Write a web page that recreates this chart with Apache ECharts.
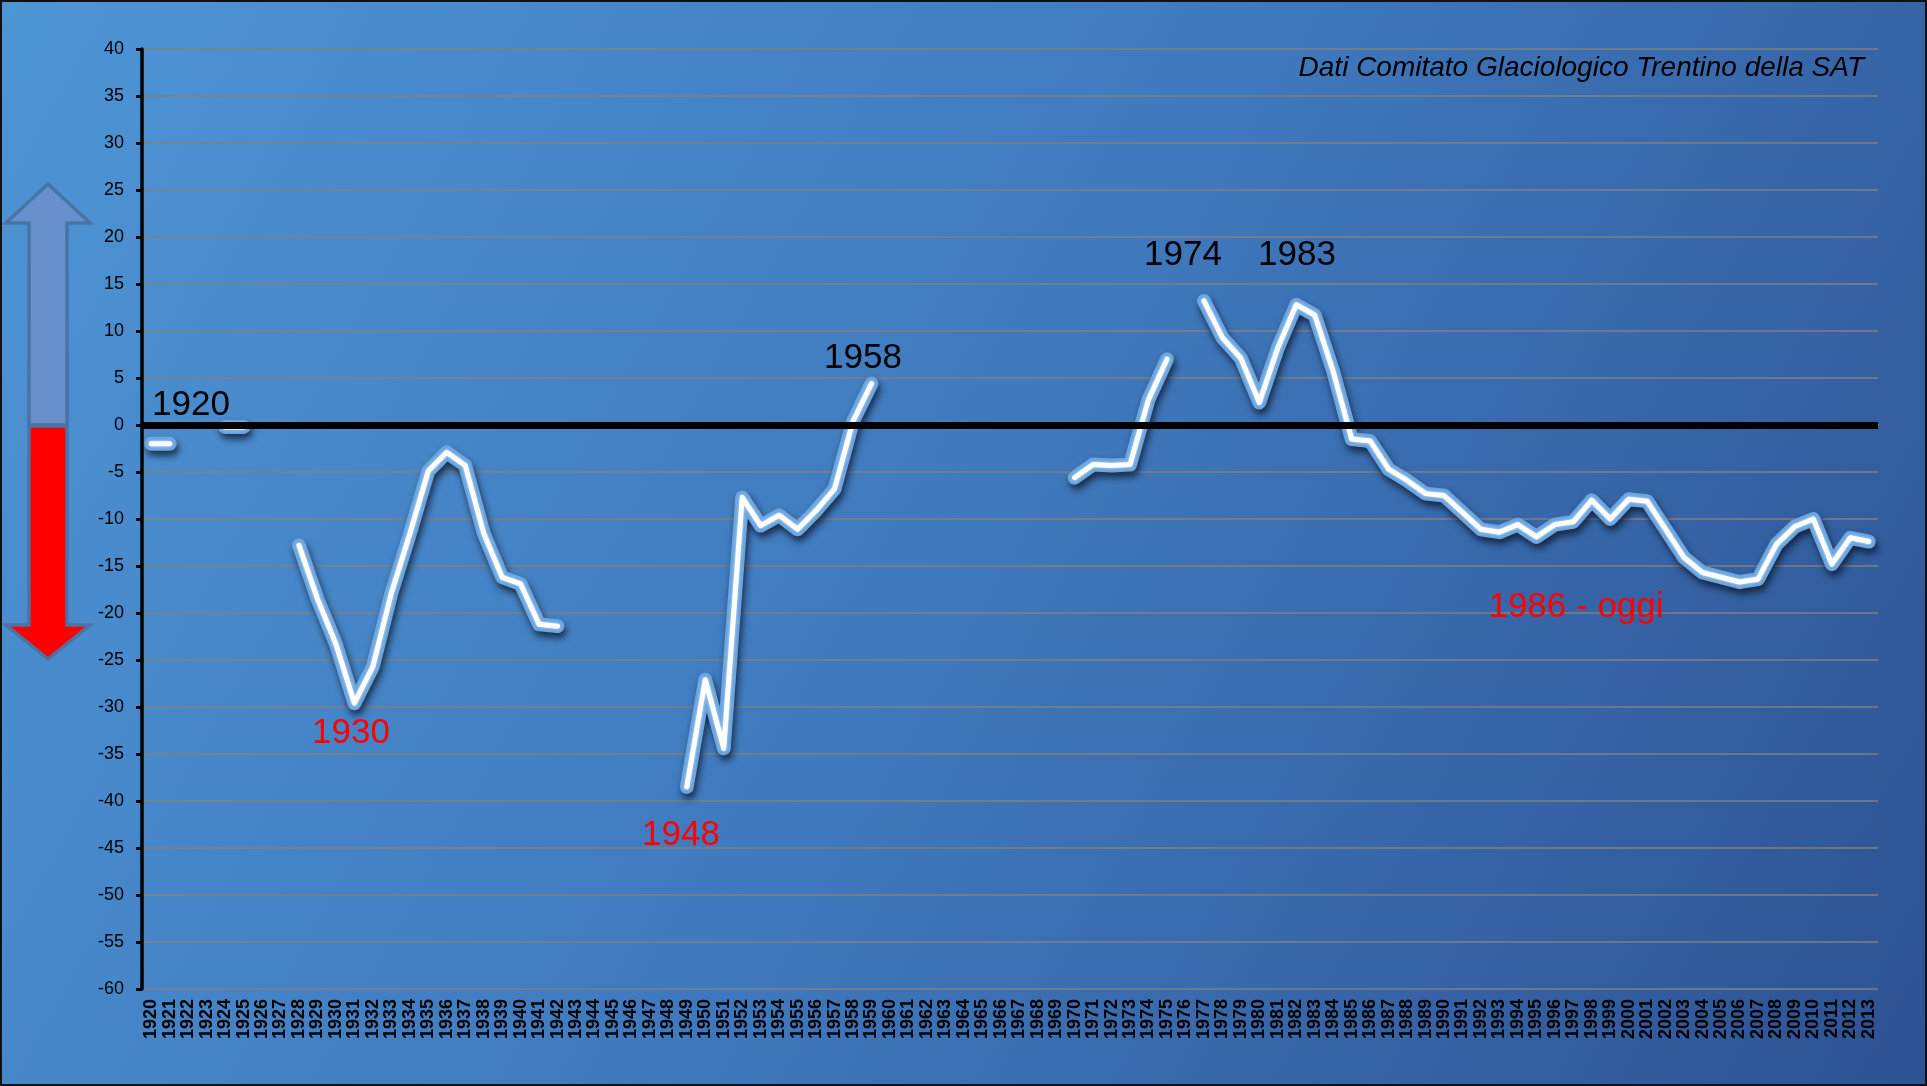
<!DOCTYPE html>
<html lang="it">

<head>
    <meta charset="UTF-8">
    <title>Variazioni ghiacciai</title>
    <script src="https://cdn.jsdelivr.net/npm/echarts@6.0.0/dist/echarts.min.js"></script>
    <style>
        body {
            margin: 0;
            background: #1a1a1a;
        }

        #main {
            width: 1927px;
            height: 1086px;
            box-sizing: border-box;
            border: 2px solid #111;
        }
    </style>
</head>

<body>
    <div id="main"></div>
    <script>
        // anni 1920 - 2013
        const years = [];
        for (let y = 1920; y <= 2013; y++) years.push(String(y));

        // valori, null = nessun dato
        const v1920s = [-2, -2, null, null, -0.2, -0.2, null, null, -12.8, -18.5];
        const v1930s = [-23.3, -29.6, -25.7, -17.9, -11.6, -4.9, -2.9, -4.3, -11.5, -16.2];
        const v1940s = [-16.9, -21.2, -21.4, null, null, null, null, null, null, -38.5];
        const v1950s = [-27.1, -34.4, -7.7, -10.7, -9.6, -11.1, -9.1, -6.8, 0.4, 4.4];
        const v1960s = [null, null, null, null, null, null, null, null, null, null];
        const v1970s = [-5.6, -4.2, -4.3, -4.2, 2.7, 7.0, null, 13.2, 9.3, 7.1];
        const v1980s = [2.4, 8.2, 12.8, 11.7, 5.7, -1.5, -1.7, -4.7, -5.9, -7.3];
        const v1990s = [-7.5, -9.3, -11.1, -11.4, -10.6, -11.9, -10.6, -10.3, -8.0, -10.0];
        const v2000s = [-7.9, -8.1, -11.1, -14.1, -15.7, -16.2, -16.7, -16.4, -12.7, -10.8];
        const v2010s = [-10.0, -14.8, -12.0, -12.4];

        const values = [].concat(v1920s, v1930s, v1940s, v1950s, v1960s, v1970s, v1980s, v1990s, v2000s, v2010s);

        // etichette sul grafico
        const notes = [
            { text: "1920", x: 189, y: 403, color: "#000" },
            { text: "1930", x: 349, y: 731, color: "#ff0000" },
            { text: "1948", x: 679, y: 833, color: "#ff0000" },
            { text: "1958", x: 861, y: 356, color: "#000" },
            { text: "1974", x: 1181, y: 253, color: "#000" },
            { text: "1983", x: 1295, y: 253, color: "#000" },
            { text: "1986 - oggi", x: 1574, y: 605, color: "#ff0000" }
        ];

        const chart = echarts.init(document.getElementById('main'));

        const graphics = notes.map(n => ({
            type: 'text',
            x: n.x,
            y: n.y,
            z: 100,
            style: {
                text: n.text,
                fill: n.color,
                font: '35px "Liberation Sans", Arial, sans-serif',
                align: 'center',
                verticalAlign: 'middle'
            }
        }));

        graphics.push({
            type: 'text',
            x: 1862,
            y: 66,
            z: 100,
            style: {
                text: 'Dati Comitato Glaciologico Trentino della SAT',
                fill: '#000',
                font: 'italic 28px "Liberation Sans", Arial, sans-serif',
                align: 'right',
                verticalAlign: 'middle'
            }
        });

        // freccia a sinistra
        graphics.push({
            type: 'polygon',
            shape: { points: [[46, 182], [88, 221], [65, 221], [65, 423], [27, 423], [27, 221], [4, 221]] },
            style: { fill: '#6890cc', stroke: '#4a74a4', lineWidth: 3.5 }
        });
        graphics.push({
            type: 'polygon',
            shape: { points: [[27, 424], [65, 424], [65, 623], [88, 623], [46, 657], [4, 623], [27, 623]] },
            style: { fill: '#ff0000', stroke: '#4a74a4', lineWidth: 3.5 }
        });

        const option = {
            backgroundColor: {
                type: 'linear', x: 0, y: 0, x2: 1, y2: 1,
                colorStops: [
                    { offset: 0, color: '#4e95d5' },
                    { offset: 0.5, color: '#3f79bd' },
                    { offset: 1, color: '#2d5292' }
                ]
            },
            animation: false,
            grid: { left: 140, right: 47, top: 47, bottom: 95 },
            xAxis: {
                type: 'category',
                data: years,
                boundaryGap: true,
                axisLine: { lineStyle: { color: '#808080', width: 2 } },
                axisTick: { show: false },
                axisLabel: {
                    interval: 0,
                    rotate: 90,
                    margin: 10,
                    color: '#000',
                    fontSize: 18,
                    fontWeight: 'bold',
                    fontFamily: 'Liberation Sans'
                },
                splitLine: { show: false }
            },
            yAxis: {
                type: 'value',
                min: -60,
                max: 40,
                interval: 5,
                axisLine: { show: true, lineStyle: { color: '#000', width: 3.5 } },
                axisTick: { show: true, inside: false, length: 6, lineStyle: { color: '#000', width: 3 } },
                axisLabel: { color: '#000', fontSize: 18, margin: 18, fontFamily: 'Liberation Sans' },
                splitLine: { lineStyle: { color: '#808080', width: 1.5 } }
            },
            graphic: graphics,
            series: [
                {
                    // alone azzurro con ombra
                    type: 'line',
                    data: values,
                    symbol: 'none',
                    silent: true,
                    z: 2,
                    lineStyle: {
                        color: '#6ba5df',
                        width: 14,
                        cap: 'round',
                        join: 'round',
                        shadowColor: 'rgba(15,25,45,0.8)',
                        shadowBlur: 7,
                        shadowOffsetX: 2,
                        shadowOffsetY: 5
                    }
                },
                {
                    type: 'line',
                    data: values,
                    symbol: 'none',
                    z: 3,
                    lineStyle: {
                        color: '#ffffff',
                        width: 5,
                        cap: 'round',
                        join: 'round',
                        shadowColor: 'rgba(220,240,255,0.9)',
                        shadowBlur: 3
                    }
                },
                {
                    // linea dello zero
                    type: 'line',
                    data: [],
                    z: 10,
                    markLine: {
                        silent: true,
                        symbol: 'none',
                        label: { show: false },
                        lineStyle: { color: '#000', width: 7, type: 'solid' },
                        data: [{ yAxis: 0 }]
                    }
                }
            ]
        };

        chart.setOption(option);
    </script>
</body>

</html>
